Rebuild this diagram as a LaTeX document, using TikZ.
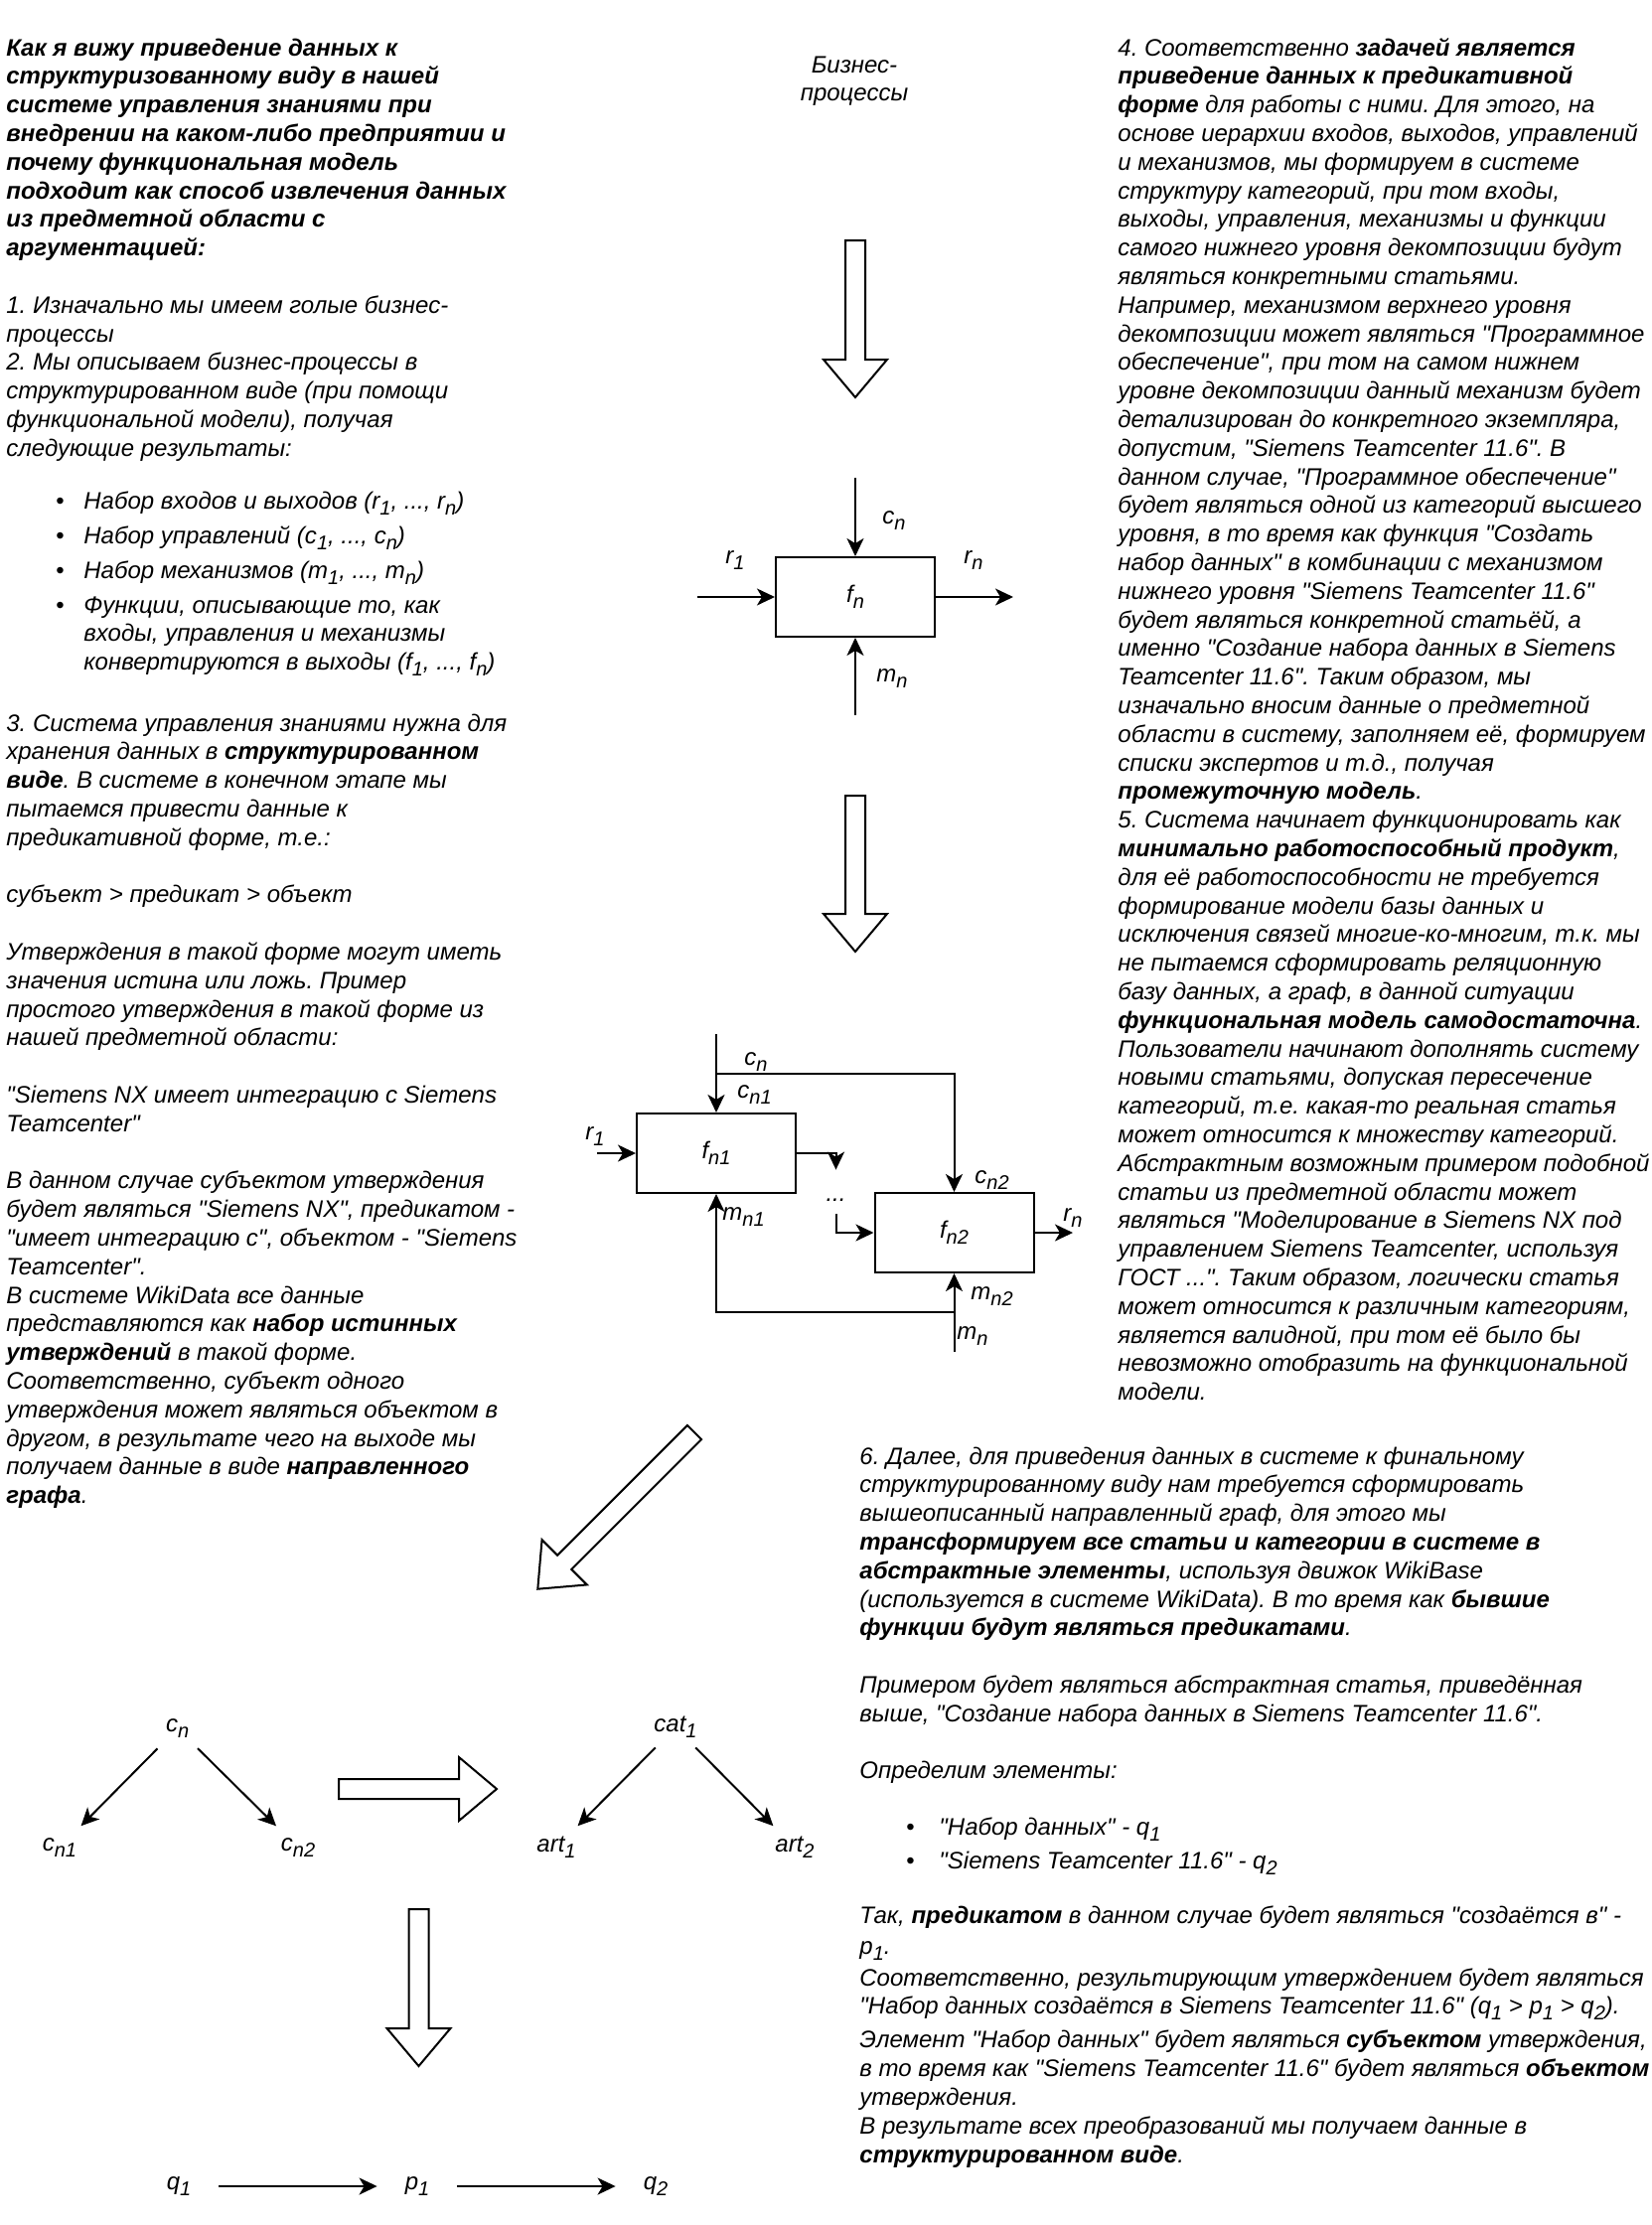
\documentclass[tikz,border=0pt]{standalone}
\usepackage{fontspec}
\setmainfont{Liberation Sans}[Ligatures=TeXOff]
\usetikzlibrary{arrows.meta}

% subscript as set in the text (smaller, lowered)
\newcommand\sbs[1]{\raisebox{-3pt}{\fontsize{10pt}{12pt}\selectfont #1}}
% left-aligned text block, first baseline on the node's base
\newcommand\txtblock[1]{\begin{minipage}[t]{800pt}\fontsize{12pt}{14.4pt}\selectfont\itshape\frenchspacing\setlength{\parindent}{0pt}\lineskiplimit=-100pt\relax #1\end{minipage}}
% centred text block
\newcommand\ctrblock[1]{\begin{minipage}[t]{200pt}\centering\fontsize{12pt}{14.4pt}\selectfont\itshape\frenchspacing\lineskiplimit=-100pt\relax #1\end{minipage}}
% hollow block arrow: x, y of tail centre, angle, length
\newcommand\blockarrow[4]{%
  \path[barrow, shift={(#1,#2)}, rotate=#3]
    (0,-10) -- ({#4-38},-10) -- ({#4-38},-32) -- (#4,0) -- ({#4-38},32) -- ({#4-38},10) -- (0,10) -- cycle;}

\begin{document}
\frenchspacing
\begin{tikzpicture}[x=0.5pt, y=-0.5pt,
  font=\fontsize{12pt}{14.4pt}\selectfont\itshape\frenchspacing,
  txt/.style={anchor=base west, inner sep=0pt},
  fbox/.style={draw, line width=1pt, minimum width=80pt, minimum height=40pt, inner sep=0pt},
  conn/.style={line width=1pt, -{Stealth[length=9pt, width=8.5pt, inset=2.5pt]}},
  wire/.style={line width=1pt},
  tlabel/.style={inner sep=0pt, minimum width=15pt, minimum height=15pt},
  clabel/.style={inner sep=0pt, minimum width=40pt, minimum height=15pt},
  tarrow/.style={conn, shorten <=3.5pt, shorten >=4.5pt},
  barrow/.style={draw, line width=1pt, fill=white, line join=miter},
]
\path[use as bounding box, fill=white] (0,0) rectangle (1662,2240);

% ---------------- left column ----------------
\node[txt] (intro) at (6,56) {\txtblock{%
\textbf{Как я вижу приведение данных к}\\
\textbf{структуризованному виду в нашей}\\
\textbf{системе управления знаниями при}\\
\textbf{внедрении на каком-либо предприятии и}\\
\textbf{почему функциональная модель}\\
\textbf{подходит как способ извлечения данных}\\
\textbf{из предметной области с}\\
\textbf{аргументацией:}\\[14.4pt]
1. Изначально мы имеем голые бизнес-\\
процессы\\
2. Мы описываем бизнес-процессы в\\
структурированном виде (при помощи\\
функциональной модели), получая\\
следующие результаты:}};

\node[txt] (li1dot) at (56,512) {\upshape •};
\node[txt] (li1) at (84,512) {Набор входов и выходов (r\sbs{1}, ..., r\sbs{n})};
\node[txt] (li2dot) at (56,547) {\upshape •};
\node[txt] (li2) at (84,547) {Набор управлений (c\sbs{1}, ..., c\sbs{n})};
\node[txt] (li3dot) at (56,582) {\upshape •};
\node[txt] (li3) at (84,582) {Набор механизмов (m\sbs{1}, ..., m\sbs{n})};
\node[txt] (li4dot) at (56,617) {\upshape •};
\node[txt] (li4) at (84,617) {\txtblock{Функции, описывающие то, как\\
входы, управления и механизмы\\
конвертируются в выходы (f\sbs{1}, ..., f\sbs{n})}};

\node[txt] (sec3) at (6,736) {\txtblock{%
3. Система управления знаниями нужна для\\
хранения данных в \textbf{структурированном}\\
\textbf{виде}. В системе в конечном этапе мы\\
пытаемся привести данные к\\
предикативной форме, т.е.:\\[14.4pt]
субъект > предикат > объект\\[14.4pt]
Утверждения в такой форме могут иметь\\
значения истина или ложь. Пример\\
простого утверждения в такой форме из\\
нашей предметной области:\\[14.4pt]
"Siemens NX имеет интеграцию с Siemens\\
Teamcenter"\\[14.4pt]
В данном случае субъектом утверждения\\
будет являться "Siemens NX", предикатом -\\
"имеет интеграцию с", объектом - "Siemens\\
Teamcenter".\\
В системе WikiData все данные\\
представляются как \textbf{набор истинных}\\
\textbf{утверждений} в такой форме.\\
Соответственно, субъект одного\\
утверждения может являться объектом в\\
другом, в результате чего на выходе мы\\
получаем данные в виде \textbf{направленного}\\
\textbf{графа}.}};

% ---------------- middle: process chain ----------------
\node[anchor=base, inner sep=0pt] (bp) at (860,73) {\ctrblock{Бизнес-\\процессы}};
\blockarrow{861}{242}{-90}{158}

% single function block
\node[fbox] (fn) at (861,601) {f\sbs{n}};
\coordinate (cnsrc) at (861,481);
\coordinate (rsrc) at (702,601);
\coordinate (rdst) at (1020,601);
\coordinate (mnsrc) at (861,720);
\draw[conn] (cnsrc) -- (fn.north);
\draw[conn] (rsrc) -- (fn.west);
\draw[conn] (fn.east) -- (rdst);
\draw[conn] (mnsrc) -- (fn.south);
\node[txt] (lcn) at (888,527) {c\sbs{n}};
\node[txt] (lr1) at (730,567) {r\sbs{1}};
\node[txt] (lrn) at (970,567) {r\sbs{n}};
\node[txt] (lmn) at (882,686) {m\sbs{n}};

\blockarrow{861}{801}{-90}{157}

% decomposed function blocks
\node[fbox] (fn1) at (721,1161) {f\sbs{n1}};
\node[fbox] (fn2) at (960.5,1241) {f\sbs{n2}};
\node[inner sep=0pt, anchor=base, text height=15.5pt, text depth=6.5pt] (dots) at (841.5,1209) {...};
\coordinate (ctop) at (721,1041);
\coordinate (csplit) at (721,1081);
\coordinate (r1src) at (601,1161);
\coordinate (rndst) at (1080,1241);
\coordinate (mbot) at (960.5,1361);
\coordinate (msplit) at (960.5,1321);
\draw[wire] (ctop) -- (csplit);
\draw[conn] (csplit) -- (fn1.north);
\draw[conn] (csplit) -| (fn2.north);
\draw[conn] (r1src) -- (fn1.west);
\draw[conn] (fn1.east) -| (dots.north);
\draw[conn] (dots.south) |- (fn2.west);
\draw[conn] (fn2.east) -- (rndst);
\draw[wire] (mbot) -- (msplit);
\draw[conn] (msplit) -- (fn2.south);
\draw[conn] (msplit) -| (fn1.south);
\node[txt] (dcn) at (749,1072) {c\sbs{n}};
\node[txt] (dcn1) at (742,1105) {c\sbs{n1}};
\node[txt] (dcn2) at (981,1191) {c\sbs{n2}};
\node[txt] (dr1) at (589,1147) {r\sbs{1}};
\node[txt] (drn) at (1070,1229) {r\sbs{n}};
\node[txt] (dmn1) at (727,1228) {m\sbs{n1}};
\node[txt] (dmn2) at (977,1308) {m\sbs{n2}};
\node[txt] (dmn) at (963,1348) {m\sbs{n}};

% ---------------- lower left: trees and triple ----------------
\blockarrow{699}{1442}{-135}{223}

\node[tlabel] (tcn) at (178.6,1740) {c\sbs{n}};
\node[tlabel] (tcn1) at (60,1860) {c\sbs{n1}};
\node[tlabel] (tcn2) at (300,1860) {c\sbs{n2}};
\draw[tarrow] (tcn) -- (tcn1);
\draw[tarrow] (tcn) -- (tcn2);

\blockarrow{341}{1801}{0}{159}

\node[tlabel] (tcat) at (680,1739) {cat\sbs{1}};
\node[tlabel] (tart1) at (560,1860) {art\sbs{1}};
\node[tlabel] (tart2) at (800,1860) {art\sbs{2}};
\draw[tarrow] (tcat) -- (tart1);
\draw[tarrow] (tcat) -- (tart2);

\blockarrow{421.5}{1922}{-90}{158}

\node[clabel] (q1) at (180,2201) {q\sbs{1}};
\node[clabel] (p1) at (420,2201) {p\sbs{1}};
\node[clabel] (q2) at (660,2201) {q\sbs{2}};
\draw[conn] (q1) -- (p1);
\draw[conn] (p1) -- (q2);

% ---------------- right column ----------------
\node[txt] (sec4) at (1125,56) {\txtblock{%
4. Соответственно \textbf{задачей является}\\
\textbf{приведение данных к предикативной}\\
\textbf{форме} для работы с ними. Для этого, на\\
основе иерархии входов, выходов, управлений\\
и механизмов, мы формируем в системе\\
структуру категорий, при том входы,\\
выходы, управления, механизмы и функции\\
самого нижнего уровня декомпозиции будут\\
являться конкретными статьями.\\
Например, механизмом верхнего уровня\\
декомпозиции может являться "Программное\\
обеспечение", при том на самом нижнем\\
уровне декомпозиции данный механизм будет\\
детализирован до конкретного экземпляра,\\
допустим, "Siemens Teamcenter 11.6". В\\
данном случае, "Программное обеспечение"\\
будет являться одной из категорий высшего\\
уровня, в то время как функция "Создать\\
набор данных" в комбинации с механизмом\\
нижнего уровня "Siemens Teamcenter 11.6"\\
будет являться конкретной статьёй, а\\
именно "Создание набора данных в Siemens\\
Teamcenter 11.6". Таким образом, мы\\
изначально вносим данные о предметной\\
области в систему, заполняем её, формируем\\
списки экспертов и т.д., получая\\
\textbf{промежуточную модель}.\\
5. Система начинает функционировать как\\
\textbf{минимально работоспособный продукт},\\
для её работоспособности не требуется\\
формирование модели базы данных и\\
исключения связей многие-ко-многим, т.к. мы\\
не пытаемся сформировать реляционную\\
базу данных, а граф, в данной ситуации\\
\textbf{функциональная модель самодостаточна}.\\
Пользователи начинают дополнять систему\\
новыми статьями, допуская пересечение\\
категорий, т.е. какая-то реальная статья\\
может относится к множеству категорий.\\
Абстрактным возможным примером подобной\\
статьи из предметной области может\\
являться "Моделирование в Siemens NX под\\
управлением Siemens Teamcenter, используя\\
ГОСТ ...". Таким образом, логически статья\\
может относится к различным категориям,\\
является валидной, при том её было бы\\
невозможно отобразить на функциональной\\
модели.}};

\node[txt] (sec6) at (865,1474) {\txtblock{%
6. Далее, для приведения данных в системе к финальному\\
структурированному виду нам требуется сформировать\\
вышеописанный направленный граф, для этого мы\\
\textbf{трансформируем все статьи и категории в системе в}\\
\textbf{абстрактные элементы}, используя движок WikiBase\\
(используется в системе WikiData). В то время как \textbf{бывшие}\\
\textbf{функции будут являться предикатами}.\\[14.4pt]
Примером будет являться абстрактная статья, приведённая\\
выше, "Создание набора данных в Siemens Teamcenter 11.6".\\[14.4pt]
Определим элементы:}};

\node[txt] (el1dot) at (912,1847) {\upshape •};
\node[txt] (el1) at (945,1847) {"Набор данных" - q\sbs{1}};
\node[txt] (el2dot) at (912,1881) {\upshape •};
\node[txt] (el2) at (945,1881) {"Siemens Teamcenter 11.6" - q\sbs{2}};

\node[txt] (sec6end) at (865,1936) {\txtblock{%
Так, \textbf{предикатом} в данном случае будет являться "создаётся в" -\\[1.1pt]
p\sbs{1}.\\[1.6pt]
Соответственно, результирующим утверждением будет являться\\
"Набор данных создаётся в Siemens Teamcenter 11.6" (q\sbs{1} > p\sbs{1} > q\sbs{2}).\\[2.6pt]
Элемент "Набор данных" будет являться \textbf{субъектом} утверждения,\\
в то время как "Siemens Teamcenter 11.6" будет являться \textbf{объектом}\\
утверждения.\\
В результате всех преобразований мы получаем данные в\\
\textbf{структурированном виде}.}};
\end{tikzpicture}
\end{document}
